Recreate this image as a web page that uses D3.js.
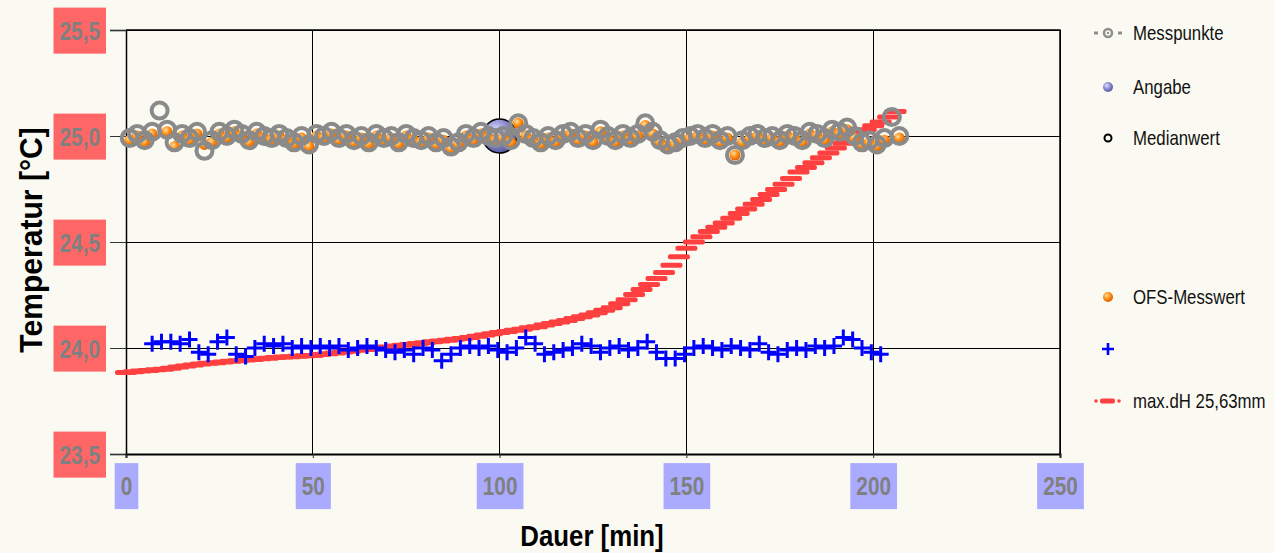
<!DOCTYPE html>
<html>
<head>
<meta charset="utf-8">
<script src="https://cdn.jsdelivr.net/npm/d3@7"></script>
<style>
  body { margin: 0; background: #fafaf2; }
</style>
</head>
<body>
<script>
// Temperature log: Messpunkte (grey rings), OFS-Messwert (orange), blue crosses, max.dH (red)
const xTicks = [0, 50, 100, 150, 200, 250];
const yTicks = [23.5, 24.0, 24.5, 25.0, 25.5];

const grayX = [1,3,5,7,9,11,13,15,17,19,21,23,25,27,29,31,33,35,37,39,41,43,45,47,49,51,53,55,57,59,
  61,63,65,67,69,71,73,75,77,79,81,83,85,87,89,91,93,95,97,99,101,103,105,107,109,111,113,115,117,119,
  121,123,125,127,129,131,133,135,137,139,141,143,145,147,149,151,153,155,157,159,161,163,165,167,169,171,173,175,177,179,
  181,183,185,187,189,191,193,195,197,199,201,203,205,207];
const grayY = [24.99,25.01,24.98,25.02,25.12,25.03,24.97,25.01,24.99,25.02,
  24.93,24.98,25.02,25.00,25.03,25.01,24.98,25.02,25.00,24.99,
  25.01,24.99,24.97,25.00,24.96,25.01,25.00,25.02,24.99,25.01,
  24.98,25.00,24.97,25.01,24.99,25.00,24.97,25.01,24.99,24.98,
  25.00,24.97,24.99,24.95,24.97,25.01,24.99,25.02,25.00,24.99,
  25.00,24.98,25.06,25.01,24.99,24.97,25.00,24.98,25.01,25.02,
  24.99,25.01,24.98,25.03,25.00,24.98,25.01,24.99,25.01,25.06,
  25.02,24.98,24.96,24.97,24.99,25.00,25.01,24.99,25.01,24.98,
  25.00,24.91,24.98,25.00,25.01,24.99,25.00,24.98,25.01,25.00,
  24.98,25.02,25.01,24.99,25.03,25.02,25.04,25.00,24.97,24.98,
  24.96,24.99,25.09,25.00];
const orangeY = [24.98,25.00,24.97,25.01,null,25.02,24.95,25.00,24.98,25.01,
  24.96,24.97,25.01,24.99,25.02,25.00,24.97,25.01,24.99,24.98,
  25.00,24.98,24.96,24.99,24.95,25.00,24.99,25.01,24.98,25.00,
  24.97,24.99,24.96,25.00,24.98,24.99,24.96,25.00,24.98,24.97,
  24.99,24.96,24.98,24.94,24.96,25.00,24.98,25.01,24.99,24.98,
  24.99,24.97,25.06,25.00,24.98,24.96,24.99,24.97,25.00,25.01,
  24.98,25.00,24.97,25.02,24.99,24.97,25.00,24.98,25.00,25.05,
  25.01,24.97,24.95,24.96,24.98,24.99,25.00,24.98,25.00,24.97,
  24.99,24.91,24.97,24.99,25.00,24.98,24.99,24.97,25.00,24.99,
  24.97,25.01,25.00,24.98,25.02,25.01,25.03,24.99,24.96,24.97,
  24.95,24.98,null,24.99];

const blueX = [7,9.5,12,14.5,17,19.5,22,24.5,27,29.5,32,34.5,37,39.5,42,44.5,47,49.5,52,54.5,
  57,59.5,62,64.5,67,69.5,72,74.5,77,79.5,82,84.5,87,89.5,92,94.5,97,99.5,102,104.5,
  107,109.5,112,114.5,117,119.5,122,124.5,127,129.5,132,134.5,137,139.5,142,144.5,147,149.5,152,154.5,
  157,159.5,162,164.5,167,169.5,172,174.5,177,179.5,182,184.5,187,189.5,192,194.5,197,199.5,202];
const blueY = [24.02,24.03,24.03,24.02,24.04,23.98,23.97,24.03,24.05,23.97,23.96,24.00,24.02,24.01,24.02,24.00,24.01,24.00,24.01,24.00,
  24.01,23.99,24.00,24.01,24.00,23.99,23.98,23.99,23.97,24.00,23.99,23.94,23.97,24.00,24.01,24.00,24.01,23.99,23.98,24.00,
  24.05,24.02,23.97,23.98,23.99,24.00,24.02,24.01,23.98,24.00,24.01,23.99,24.00,24.03,23.98,23.95,23.95,23.97,24.00,24.01,
  24.00,23.99,24.01,24.00,23.99,24.02,23.98,23.97,23.99,24.00,23.99,24.01,24.00,24.01,24.05,24.04,24.00,23.98,23.97];

const redX = [0,2,4,6,8,10,12,14,16,18,20,22,24,26,28,30,32,34,36,38,40,42,44,46,48,50,52,54,56,58,
  60,62,64,66,68,70,72,74,76,78,80,82,84,86,88,90,92,94,96,98,100,102,104,106,108,110,112,114,116,118,
  120,122,124,126,128,130,132,134,136,138,140,142,144,146,148,150,152,154,156,158,160,162,164,166,168,170,172,174,176,178,
  180,182,184,186,188,190,192,194,196,198,200,202,204,206];
const redY = [23.885,23.888,23.891,23.894,23.897,23.900,23.905,23.910,23.915,23.920,
  23.925,23.928,23.931,23.934,23.937,23.940,23.943,23.946,23.949,23.952,
  23.955,23.957,23.959,23.961,23.963,23.965,23.969,23.973,23.977,23.981,
  23.985,23.989,23.993,23.997,24.001,24.005,24.009,24.013,24.017,24.021,
  24.025,24.029,24.033,24.037,24.041,24.045,24.050,24.056,24.061,24.067,
  24.073,24.078,24.084,24.089,24.095,24.100,24.108,24.115,24.123,24.130,
  24.139,24.147,24.156,24.166,24.178,24.190,24.209,24.228,24.252,24.276,
  24.300,24.328,24.356,24.390,24.430,24.470,24.500,24.525,24.550,24.570,
  24.590,24.612,24.634,24.656,24.678,24.700,24.724,24.748,24.772,24.800,
  24.830,24.852,24.874,24.897,24.920,24.943,24.966,24.989,25.010,25.029,
  25.048,25.066,25.090,25.115];

const angabe = { x: 100, y: 25.0 };
const legendLabels = ["Messpunkte", "Angabe", "Medianwert", "OFS-Messwert", "", "max.dH 25,63mm"];

const W = 1275, H = 553;
const FONT = "'Liberation Sans', Arial, sans-serif";

// no narrow font installed: squeeze Liberation Sans horizontally
function squeeze(sel, k) {
  sel.each(function () {
    const l = this.getComputedTextLength();
    if (l > 0) d3.select(this).attr("textLength", l * k).attr("lengthAdjust", "spacingAndGlyphs");
  });
}

const svg = d3.select("body").append("svg")
  .attr("width", W).attr("height", H)
  .style("background", "#fafaf2");

const x = d3.scaleLinear().domain([0, 250]).range([126, 1060]);
const y = d3.scaleLinear().domain([23.5, 25.5]).range([454, 30]);

const defs = svg.append("defs");
function sphere(id, c0, c1, c2) {
  const g = defs.append("radialGradient").attr("id", id)
    .attr("cx", "38%").attr("cy", "35%").attr("r", "65%");
  g.append("stop").attr("offset", "0%").attr("stop-color", c0);
  g.append("stop").attr("offset", "55%").attr("stop-color", c1);
  g.append("stop").attr("offset", "100%").attr("stop-color", c2);
}
sphere("gOrange", "#ffe0a0", "#ff8c10", "#e06000");
sphere("gBlue", "#e0e0ff", "#8c8cd0", "#5a5aa8");

// grid
svg.append("g").selectAll("line").data(xTicks.slice(1)).join("line")
  .attr("x1", d => x(d)).attr("x2", d => x(d))
  .attr("y1", y(25.5)).attr("y2", y(23.5))
  .attr("stroke", "#000").attr("stroke-width", 1).attr("shape-rendering", "crispEdges");
svg.append("g").selectAll("line").data(yTicks.slice(1)).join("line")
  .attr("x1", x(0)).attr("x2", x(250))
  .attr("y1", d => y(d)).attr("y2", d => y(d))
  .attr("stroke", "#000").attr("stroke-width", 1).attr("shape-rendering", "crispEdges");

// axes
const yAxis = svg.append("g").attr("transform", `translate(${x(0)},0)`)
  .call(d3.axisLeft(y).tickValues(yTicks).tickSize(16).tickPadding(10)
    .tickFormat(d => d.toFixed(1).replace(".", ",")));
const xAxis = svg.append("g").attr("transform", `translate(0,${y(23.5)})`)
  .call(d3.axisBottom(x).tickValues(xTicks).tickSize(4).tickPadding(0).tickFormat(d => d));

[yAxis, xAxis].forEach(a => {
  a.select(".domain").attr("stroke", "#000").attr("stroke-width", 1.5);
  a.selectAll(".tick line").attr("stroke", "#333");
  a.selectAll("text")
    .style("font-family", FONT).style("font-weight", "bold")
    .style("font-size", "26px").attr("fill", "#808080");
  squeeze(a.selectAll("text"), 0.8);
});
xAxis.select(".domain").attr("stroke-width", 2);
xAxis.selectAll("text").attr("y", 32).attr("dy", "0.35em");
yAxis.selectAll("text").attr("dy", "0.35em");

function boxes(axis, color) {
  axis.selectAll(".tick").each(function () {
    const t = d3.select(this).select("text");
    const b = t.node().getBBox();
    d3.select(this).insert("rect", "text")
      .attr("x", b.x - 6).attr("y", b.y + b.height / 2 - 23)
      .attr("width", b.width + 12).attr("height", 46)
      .attr("fill", color);
  });
}
boxes(yAxis, "#ff6666");
boxes(xAxis, "#aaaaff");

// frame top / right
svg.append("path")
  .attr("d", `M${x(0)},${y(25.5)}H${x(250)}V${y(23.5)}`)
  .attr("fill", "none").attr("stroke", "#000").attr("stroke-width", 1.5);

// max.dH red dashes
svg.append("g").selectAll("rect").data(redX).join("rect")
  .attr("x", d => x(d) - 11).attr("y", (d, i) => y(redY[i]) - 2.5)
  .attr("width", 22).attr("height", 5).attr("rx", 2).attr("fill", "#ff4040");

// blue crosses
svg.append("g").selectAll("path").data(blueX).join("path")
  .attr("d", (d, i) => {
    const cx = x(d), cy = y(blueY[i]);
    return `M${cx - 8},${cy}H${cx + 8}M${cx},${cy - 8}V${cy + 8}`;
  })
  .attr("stroke", "#0000ff").attr("stroke-width", 3).attr("fill", "none");

// Angabe
svg.append("circle").attr("cx", x(angabe.x)).attr("cy", y(angabe.y)).attr("r", 17)
  .attr("fill", "url(#gBlue)").attr("stroke", "#000").attr("stroke-width", 1.5);

// OFS-Messwert
svg.append("g").selectAll("circle")
  .data(grayX.map((d, i) => [d, orangeY[i]]).filter(d => d[1] != null)).join("circle")
  .attr("cx", d => x(d[0])).attr("cy", d => y(d[1])).attr("r", 5.5)
  .attr("fill", "url(#gOrange)");

// Messpunkte rings
svg.append("g").selectAll("circle").data(grayX).join("circle")
  .attr("cx", d => x(d)).attr("cy", (d, i) => y(grayY[i])).attr("r", 8)
  .attr("fill", "none").attr("stroke", "#8a8a8a").attr("stroke-width", 4);

// axis titles
const yTitle = svg.append("text")
  .attr("transform", `translate(42,240) rotate(-90)`)
  .attr("text-anchor", "middle")
  .style("font-family", FONT).style("font-weight", "bold").style("font-size", "31px")
  .text("Temperatur [°C]");
const xTitle = svg.append("text")
  .attr("x", 592).attr("y", 546).attr("text-anchor", "middle")
  .style("font-family", FONT).style("font-weight", "bold").style("font-size", "30px")
  .text("Dauer [min]");
squeeze(yTitle, 0.97);
squeeze(xTitle, 0.86);

// legend (text scaled horizontally to mimic a narrow face)
const legY = [33, 87, 138, 297, 349, 401];
const leg = svg.append("g");
leg.selectAll("text").data(legendLabels).join("text")
  .attr("transform", (d, i) => `translate(1133,${legY[i]}) scale(0.82,1)`)
  .attr("dy", "0.35em")
  .style("font-family", FONT).style("font-size", "20.5px").attr("fill", "#111")
  .text(d => d);

const lx = 1108;
leg.append("path").attr("d", `M1094,${legY[0]}H1098M1118,${legY[0]}H1122`)
  .attr("stroke", "#8f8f8f").attr("stroke-width", 3);
leg.append("circle").attr("cx", lx).attr("cy", legY[0]).attr("r", 4)
  .attr("fill", "none").attr("stroke", "#8f8f8f").attr("stroke-width", 2.5);
leg.append("circle").attr("cx", lx).attr("cy", legY[0]).attr("r", 1.2).attr("fill", "#8f8f8f");
leg.append("circle").attr("cx", lx).attr("cy", legY[1]).attr("r", 5).attr("fill", "url(#gBlue)");
leg.append("circle").attr("cx", lx).attr("cy", legY[2]).attr("r", 3.5)
  .attr("fill", "none").attr("stroke", "#000").attr("stroke-width", 2);
leg.append("circle").attr("cx", lx).attr("cy", legY[3]).attr("r", 5).attr("fill", "url(#gOrange)");
leg.append("path").attr("d", `M${lx - 6},${legY[4]}H${lx + 6}M${lx},${legY[4] - 6}V${legY[4] + 6}`)
  .attr("stroke", "#0000ff").attr("stroke-width", 2.6);
leg.append("rect").attr("x", 1100).attr("y", legY[5] - 2.5).attr("width", 15).attr("height", 5)
  .attr("rx", 2).attr("fill", "#ff4040");
leg.append("circle").attr("cx", 1096).attr("cy", legY[5]).attr("r", 1.8).attr("fill", "#ff4040");
leg.append("circle").attr("cx", 1119).attr("cy", legY[5]).attr("r", 1.8).attr("fill", "#ff4040");
</script>
</body>
</html>
